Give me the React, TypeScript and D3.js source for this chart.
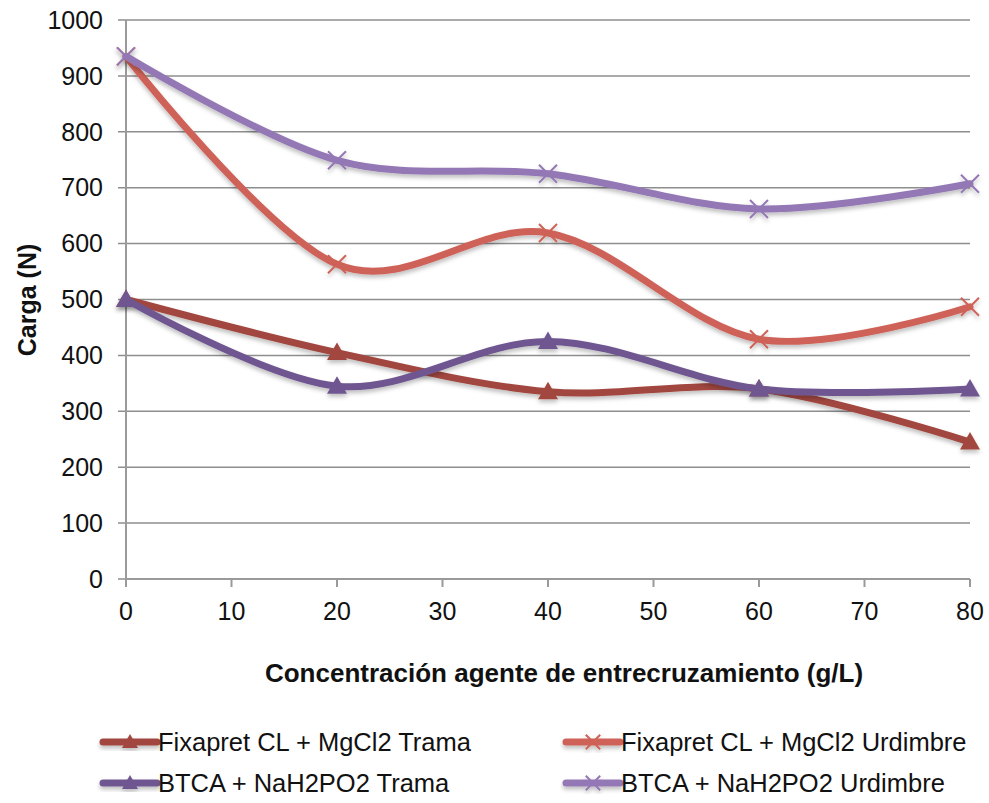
import React from "react";
import * as d3 from "d3";

const xValues = [0, 20, 40, 60, 80];
const fixTrama = [500, 405, 335, 340, 245];
const fixUrdimbre = [935, 563, 619, 429, 487];
const btcaTrama = [500, 345, 425, 340, 340];
const btcaUrdimbre = [935, 749, 725, 662, 707];
const seriesNames = [
  "Fixapret CL + MgCl2 Trama",
  "Fixapret CL + MgCl2 Urdimbre",
  "BTCA + NaH2PO2 Trama",
  "BTCA + NaH2PO2 Urdimbre",
];
const seriesColors = ["#A2473F", "#CF6258", "#6F5790", "#9478B5"];
const seriesMarkers = ["triangle", "x", "triangle", "x"];
const xTicks = [0, 10, 20, 30, 40, 50, 60, 70, 80];
const yTicks = [0, 100, 200, 300, 400, 500, 600, 700, 800, 900, 1000];

const W = 989;
const H = 803;

export default function App() {
  const x = d3.scaleLinear().domain([0, 80]).range([126, 970]);
  const y = d3.scaleLinear().domain([0, 1000]).range([579, 20]);
  const all = [fixTrama, fixUrdimbre, btcaTrama, btcaUrdimbre];
  const line = d3
    .line<number>()
    .x((_, i) => x(xValues[i]))
    .y((d) => y(d))
    .curve(d3.curveCardinal.tension(0));
  const font = "'Liberation Sans', Arial, Helvetica, sans-serif";

  const marker = (type: string, cx: number, cy: number, color: string, s = 1) => {
    if (type === "triangle") {
      const r = 10 * s;
      return (
        <path
          d={`M${cx},${cy - r} L${cx + r},${cy + r * 0.75} L${cx - r},${cy + r * 0.75} Z`}
          fill={color}
        />
      );
    }
    const r = 9 * s;
    return (
      <path
        d={`M${cx - r},${cy - r} L${cx + r},${cy + r} M${cx - r},${cy + r} L${cx + r},${cy - r}`}
        stroke={color}
        strokeWidth={2}
        fill="none"
      />
    );
  };

  const legendPos = [
    [103, 742],
    [566, 742],
    [103, 783],
    [566, 783],
  ];

  return (
    <svg
      width={W}
      height={H}
      style={{ display: "block", position: "absolute", left: 0, top: 0 }}
      fontFamily={font}
    >
      <defs>
        <filter id="sh" x="-10%" y="-10%" width="120%" height="130%">
          <feDropShadow dx="0" dy="3" stdDeviation="2" floodColor="#000" floodOpacity="0.25" />
        </filter>
      </defs>
      <rect width={W} height={H} fill="#fff" />
      {yTicks.map((t) => (
        <g key={t}>
          <line x1={118} x2={970} y1={y(t)} y2={y(t)} stroke="#8E8E8E" strokeWidth={1.5} />
          <text x={103} y={y(t)} dy="0.35em" textAnchor="end" fontSize={25} fill="#111">
            {t}
          </text>
        </g>
      ))}
      <line x1={x(0)} x2={x(0)} y1={y(1000)} y2={y(0) + 8} stroke="#9A9A9A" strokeWidth={2} />
      <line x1={x(0)} x2={x(80)} y1={y(0)} y2={y(0)} stroke="#9A9A9A" strokeWidth={2} />
      {xTicks.map((t) => (
        <g key={t}>
          <line x1={x(t)} x2={x(t)} y1={y(0)} y2={y(0) + 8} stroke="#9A9A9A" strokeWidth={2} />
          <text x={x(t)} y={611} dy="0.35em" textAnchor="middle" fontSize={25} fill="#111">
            {t}
          </text>
        </g>
      ))}
      {all.map((vals, si) => (
        <g key={si} filter="url(#sh)">
          <path d={line(vals) || ""} fill="none" stroke={seriesColors[si]} strokeWidth={7} strokeLinecap="round" />
          {vals.map((v, i) => (
            <g key={i}>{marker(seriesMarkers[si], x(xValues[i]), y(v), seriesColors[si])}</g>
          ))}
        </g>
      ))}
      <text x={564} y={673} dy="0.35em" textAnchor="middle" fontSize={26} fontWeight="bold" fill="#111">
        Concentración agente de entrecruzamiento (g/L)
      </text>
      <text
        transform={`translate(27,300) rotate(-90)`}
        dy="0.35em"
        textAnchor="middle"
        fontSize={25}
        fontWeight="bold"
        fill="#111"
      >
        Carga (N)
      </text>
      {seriesNames.map((n, i) => {
        const [lx, ly] = legendPos[i];
        return (
          <g key={n}>
            <g filter="url(#sh)">
              <line x1={lx} x2={lx + 54} y1={ly} y2={ly} stroke={seriesColors[i]} strokeWidth={7} strokeLinecap="round" />
              {marker(seriesMarkers[i], lx + 27, ly, seriesColors[i], 0.8)}
            </g>
            <text x={lx + 55} y={ly} dy="0.35em" fontSize={25.5} fill="#111">
              {n}
            </text>
          </g>
        );
      })}
    </svg>
  );
}
